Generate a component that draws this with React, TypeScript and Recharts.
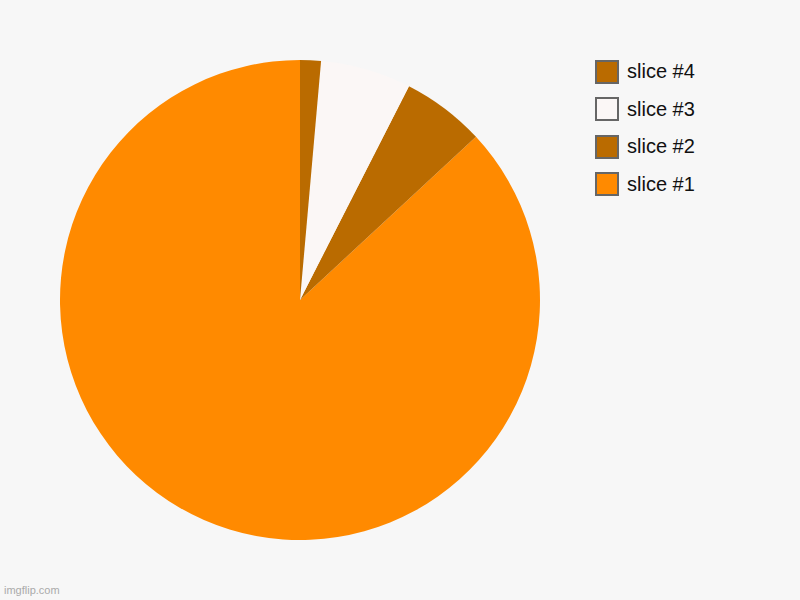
import React from 'react';
import { PieChart, Pie, Cell, Legend } from 'recharts';

const sliceNames = ['slice #1', 'slice #2', 'slice #3', 'slice #4'];
const sliceValues = [86.9, 5.6, 6.1, 1.4];
const sliceColors = ['#FF8A00', '#BA6B00', '#FBF7F6', '#BA6B00'];

const chartData = sliceNames.map((name, i) => ({ name, value: sliceValues[i] }));

const renderLegend = (props: any) => {
    const items = [...(props.payload || [])].reverse();
    return (
        <div style={{ fontFamily: '"Liberation Sans", Arial, sans-serif' }}>
            {items.map((entry: any) => (
                <div key={entry.value} style={{ display: 'flex', alignItems: 'center', height: 37.5 }}>
                    <span
                        style={{
                            display: 'inline-block',
                            width: 20,
                            height: 20,
                            background: entry.color,
                            border: '2px solid #666',
                            marginRight: 8,
                        }}
                    />
                    <span style={{ fontSize: 20, color: '#111' }}>{entry.value}</span>
                </div>
            ))}
        </div>
    );
};

const App: React.FC = () => {
    return (
        <div style={{ position: 'absolute', left: 0, top: 0, width: 800, height: 600, background: '#F7F7F7' }}>
            <PieChart width={800} height={600} margin={{ top: 0, right: 0, bottom: 0, left: 0 }}>
                <Pie
                    data={chartData}
                    dataKey="value"
                    nameKey="name"
                    cx={300}
                    cy={300}
                    outerRadius={240}
                    startAngle={90}
                    endAngle={450}
                    stroke="none"
                    isAnimationActive={false}
                >
                    {chartData.map((d, i) => (
                        <Cell key={d.name} fill={sliceColors[i]} />
                    ))}
                </Pie>
                <Legend
                    content={renderLegend}
                    layout="vertical"
                    verticalAlign="top"
                    align="right"
                    wrapperStyle={{ left: 595, top: 53, right: 'auto', width: 180 }}
                />
            </PieChart>
            <div
                style={{
                    position: 'absolute',
                    left: 4,
                    bottom: 4,
                    fontFamily: '"Liberation Sans", Arial, sans-serif',
                    fontSize: 11,
                    color: '#AAAAAA',
                }}
            >
                imgflip.com
            </div>
        </div>
    );
};

export default App;
